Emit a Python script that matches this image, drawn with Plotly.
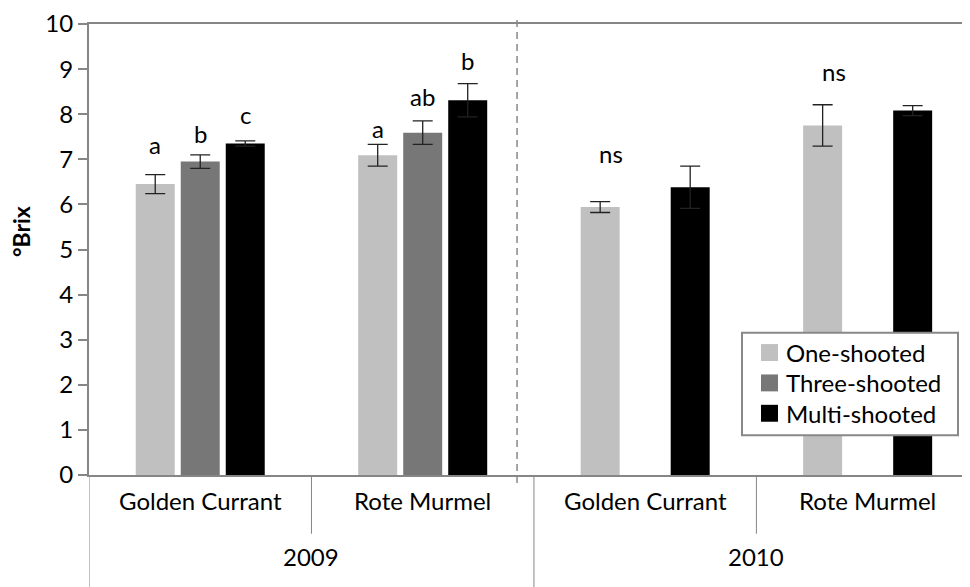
import plotly.graph_objects as go

# ---- data ----
varieties = ["Golden Currant", "Rote Murmel", "Golden Currant", "Rote Murmel"]
years = ["2009", "2010"]
series_names = ["One-shooted", "Three-shooted", "Multi-shooted"]
one_vals = [6.45, 7.09, 5.94, 7.75]
one_err = [0.21, 0.24, 0.12, 0.46]
three_vals = [6.95, 7.59, None, None]
three_err = [0.15, 0.26, None, None]
multi_vals = [7.35, 8.31, 6.38, 8.08]
multi_err = [0.06, 0.37, 0.47, 0.11]
colors = ["#c0c0c0", "#777777", "#000000"]

# significance letters: (category index, series slot, text, y)
sig_labels = [
    (0, 0, "a", 7.33), (0, 1, "b", 7.57), (0, 2, "c", 7.99),
    (1, 0, "a", 7.69), (1, 1, "ab", 8.39), (1, 2, "b", 9.18),
    (2, 0.25, "ns", 7.13), (3, 0.25, "ns", 8.94),
]

FONT = "Lato"
FS = 24
x = list(range(len(varieties)))

# page offset (body margin 8px) is compensated in the margins
W, H = 970, 587
ML, MT, MB = 81, 14, 120
PW = W - ML
PH = H - MT - MB


def px(page_x):
    return (page_x - 89) / PW


def py(page_y):
    return (475 - page_y) / PH


fig = go.Figure()
for name, vals, errs, col in zip(series_names,
                                 [one_vals, three_vals, multi_vals],
                                 [one_err, three_err, multi_err], colors):
    fig.add_trace(go.Bar(
        x=x, y=vals, name=name, marker=dict(color=col, line=dict(width=0)),
        error_y=dict(type="data", array=errs, visible=True, color="#222222",
                     thickness=1.3, width=10),
        showlegend=False,
    ))

bargap = 0.393
group_w = 1 - bargap
step = group_w / 3

annotations = []
for ci, si, txt, yv in sig_labels:
    annotations.append(dict(x=ci + (si - 1) * step, y=yv, xref="x", yref="y",
                            text=txt, showarrow=False,
                            font=dict(family=FONT, size=FS, color="black")))
# category labels
for i, v in enumerate(varieties):
    annotations.append(dict(x=i, y=py(517), xref="x", yref="paper", text=v,
                            showarrow=False,
                            font=dict(family=FONT, size=FS, color="black")))
for j, yr in enumerate(years):
    annotations.append(dict(x=2 * j + 0.5, y=py(573), xref="x", yref="paper",
                            text=yr, showarrow=False,
                            font=dict(family=FONT, size=FS, color="black")))
# y-axis title
annotations.append(dict(x=px(21), y=py(231), xref="paper", yref="paper",
                        text="<b>°Brix</b>", showarrow=False, textangle=-90,
                        xanchor="center", yanchor="middle",
                        font=dict(family=FONT, size=23, color="black")))

line_col = "#868686"
shapes = [
    dict(type="line", xref="x", yref="paper", x0=-0.5, x1=-0.5, y0=0, y1=py(600),
         line=dict(color=line_col, width=1)),
    dict(type="line", xref="x", yref="paper", x0=1.5, x1=1.5, y0=0, y1=py(600),
         line=dict(color=line_col, width=1)),
    dict(type="line", xref="x", yref="paper", x0=0.5, x1=0.5, y0=0, y1=py(534),
         line=dict(color=line_col, width=1)),
    dict(type="line", xref="x", yref="paper", x0=2.5, x1=2.5, y0=0, y1=py(534),
         line=dict(color=line_col, width=1)),
    dict(type="line", xref="x", yref="paper", x0=1.424, x1=1.424, y0=py(18), y1=py(483),
         line=dict(color="#888888", width=1.5, dash="7px,5px")),
]

# legend (drawn box, swatches and labels)
shapes.append(dict(type="rect", xref="paper", yref="paper",
                   x0=px(742), x1=px(958), y0=py(332), y1=py(435),
                   line=dict(color="#888888", width=2), fillcolor="white", layer="above"))
for k, (name, col) in enumerate(zip(series_names, colors)):
    cy = 352 + 30.5 * k
    shapes.append(dict(type="rect", xref="paper", yref="paper",
                       x0=px(761), x1=px(778), y0=py(cy - 8.5), y1=py(cy + 8.5),
                       line=dict(width=0), fillcolor=col, layer="above"))
    annotations.append(dict(x=px(784), y=py(cy), xref="paper", yref="paper",
                            text=name, showarrow=False, xanchor="left", yanchor="middle",
                            font=dict(family=FONT, size=FS, color="black")))

fig.update_layout(
    width=W, height=H,
    margin=dict(l=ML, r=0, t=MT, b=MB),
    paper_bgcolor="white", plot_bgcolor="white",
    barmode="group", bargap=bargap, bargroupgap=0.134,
    showlegend=False,
    font=dict(family=FONT, size=FS, color="black"),
    xaxis=dict(range=[-0.5, 3.496], showticklabels=False, ticks="",
               showgrid=False, zeroline=False, showline=True,
               linecolor=line_col, linewidth=2, mirror=True),
    yaxis=dict(range=[0, 10], dtick=1, ticks="outside", ticklen=9,
               tickcolor=line_col, tickwidth=1.5, showgrid=False, zeroline=False,
               showline=True, linecolor=line_col, linewidth=2,
               ticklabeloverflow="allow",
               tickfont=dict(family=FONT, size=FS, color="black")),
    annotations=annotations, shapes=shapes,
)

fig.write_html("out.html")
